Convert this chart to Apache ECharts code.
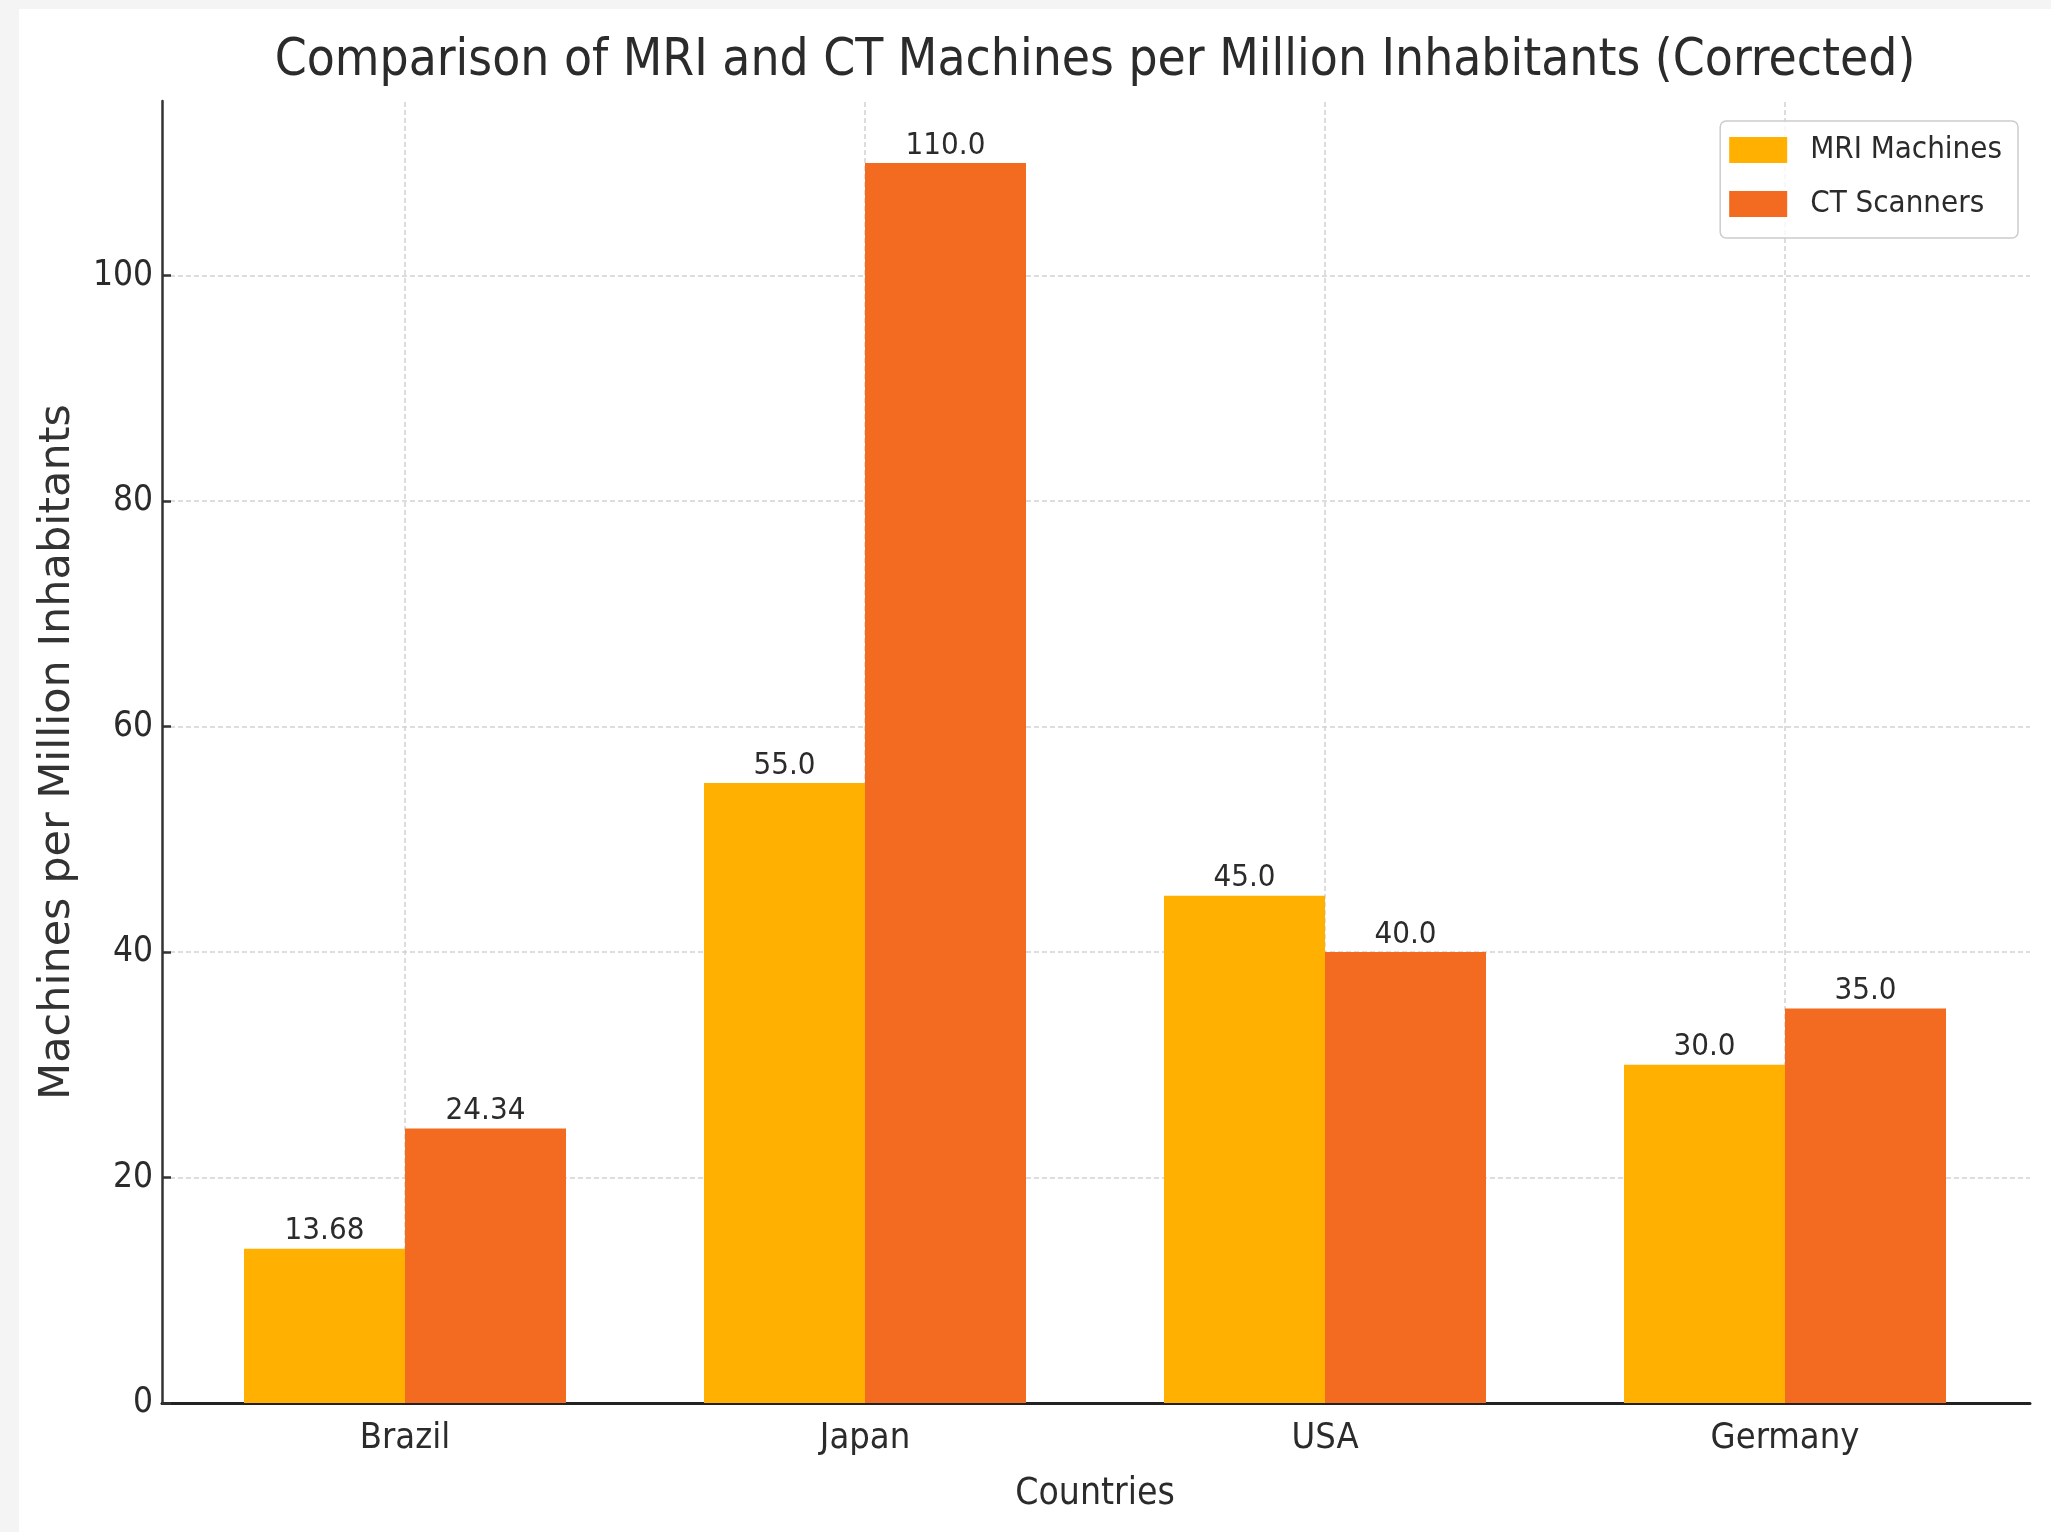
<!DOCTYPE html>
<html>
<head>
<meta charset="utf-8">
<script src="https://cdn.jsdelivr.net/npm/echarts@6/dist/echarts.min.js"></script>
<style>
  html, body { margin: 0; padding: 0; background: #f4f4f4; }
  #frame { position: absolute; left: 0; top: 0; width: 2051px; height: 1532px; background: #f4f4f4; }
  #chart { position: absolute; left: 19px; top: 9px; width: 2032px; height: 1523px; background: #ffffff; }
</style>
</head>
<body>
<div id="frame"><div id="chart"></div></div>
<script>
// Machines per million inhabitants, by country
const countries = ['Brazil', 'Japan', 'USA', 'Germany'];
const mriMachines = [13.68, 55.0, 45.0, 30.0];
const ctScanners = [24.34, 110.0, 40.0, 35.0];
const yTickValues = [0, 20, 40, 60, 80, 100];
const yMax = 115.5;

const seriesNames = ['MRI Machines', 'CT Scanners'];
const colors = ['#FFB000', '#F26B21'];

const narrow = "'DejaVu Sans Condensed', 'DejaVu Sans', sans-serif";
const regular = "'DejaVu Sans', sans-serif";
const textColor = '#2b2b2b';
const spineColor = '#333333';
const gridColor = '#d2d2d2';

// Values printed the way they were computed: whole numbers keep one decimal
const fmt = v => Number.isInteger(v) ? v.toFixed(1) : String(v);

const chart = echarts.init(document.getElementById('chart'), null, { renderer: 'canvas' });

const option = {
  animation: false,
  backgroundColor: '#ffffff',
  title: {
    text: 'Comparison of MRI and CT Machines per Million Inhabitants (Corrected)',
    left: 1076,
    top: 27,
    padding: 0,
    textAlign: 'center',
    textStyle: { fontFamily: narrow, fontSize: 51, fontWeight: 'normal', color: textColor }
  },
  legend: {
    orient: 'vertical',
    right: 33,
    top: 112,
    align: 'left',
    padding: [13, 16, 18, 9],
    itemWidth: 58,
    itemHeight: 26,
    itemGap: 22,
    icon: 'rect',
    backgroundColor: 'rgba(255,255,255,0.8)',
    borderColor: '#cccccc',
    borderWidth: 1.5,
    borderRadius: 6,
    textStyle: { fontFamily: narrow, fontSize: 31, color: textColor, lineHeight: 32, padding: [0, 0, 0, 18] },
    data: seriesNames
  },
  grid: [
    // frame: spines, y scale and horizontal grid
    { left: 143, top: 92, width: 1868, height: 1302, containLabel: false },
    // bars: one band of 460px per country
    { left: 156, top: 92, width: 1840, height: 1302, containLabel: false }
  ],
  xAxis: [
    {
      gridIndex: 0, type: 'value', min: 0, max: 1,
      axisLine: { show: true, lineStyle: { color: '#222222', width: 3 } },
      axisTick: { show: false }, axisLabel: { show: false }, splitLine: { show: false }
    },
    {
      gridIndex: 1, type: 'category', data: countries, boundaryGap: true,
      axisLine: { show: false },
      axisTick: { show: true, inside: true, alignWithLabel: true, length: 9, lineStyle: { color: spineColor, width: 2.5 } },
      axisLabel: { fontFamily: narrow, fontSize: 36, color: textColor, margin: 18 },
      splitLine: { show: false },
      name: 'Countries',
      nameLocation: 'middle',
      nameGap: 73,
      nameTextStyle: { fontFamily: narrow, fontSize: 37, color: textColor }
    }
  ],
  yAxis: [
    {
      gridIndex: 0, type: 'value', min: 0, max: yMax, interval: 20,
      axisLine: { show: true, lineStyle: { color: spineColor, width: 2.5 } },
      axisTick: { show: true, inside: true, length: 9, customValues: yTickValues, lineStyle: { color: spineColor, width: 2.5 } },
      axisLabel: { customValues: yTickValues, fontFamily: narrow, fontSize: 35, color: textColor, margin: 9 },
      splitLine: { show: true, showMinLine: false, lineStyle: { color: gridColor, width: 1.5, type: [5, 3] } },
      name: 'Machines per Million Inhabitants',
      nameLocation: 'middle',
      nameGap: 83,
      nameRotate: 90,
      nameTextStyle: { fontFamily: regular, fontSize: 43, color: '#333333' }
    },
    {
      gridIndex: 1, type: 'value', min: 0, max: yMax, interval: 20,
      show: false
    }
  ],
  series: [
    {
      name: 'grid-x',
      type: 'line',
      xAxisIndex: 1, yAxisIndex: 1,
      data: [],
      silent: true,
      z: 1,
      markLine: {
        silent: true,
        z: 1,
        symbol: ['none', 'none'],
        label: { show: false },
        lineStyle: { color: gridColor, width: 1.5, type: [5, 3] },
        emphasis: { disabled: true },
        data: countries.map(c => ({ xAxis: c }))
      }
    },
    {
      name: seriesNames[0],
      type: 'bar',
      xAxisIndex: 1, yAxisIndex: 1,
      data: mriMachines,
      barWidth: '35%',
      barGap: '0%',
      itemStyle: { color: colors[0] },
      z: 3,
      label: {
        show: true, position: 'top', distance: 2,
        formatter: p => fmt(p.value),
        fontFamily: narrow, fontSize: 31, color: textColor
      }
    },
    {
      name: seriesNames[1],
      type: 'bar',
      xAxisIndex: 1, yAxisIndex: 1,
      data: ctScanners,
      barWidth: '35%',
      barGap: '0%',
      itemStyle: { color: colors[1] },
      z: 3,
      label: {
        show: true, position: 'top', distance: 2,
        formatter: p => fmt(p.value),
        fontFamily: narrow, fontSize: 31, color: textColor
      }
    }
  ]
};

chart.setOption(option);
</script>
</body>
</html>
